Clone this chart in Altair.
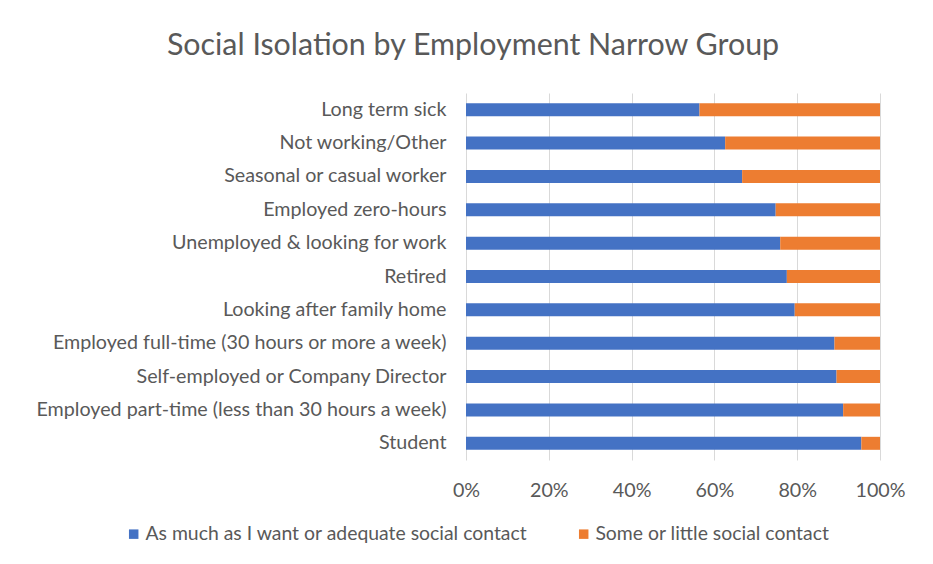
import altair as alt
import pandas as pd

categories = [
    "Long term sick",
    "Not working/Other",
    "Seasonal or casual worker",
    "Employed zero-hours",
    "Unemployed & looking for work",
    "Retired",
    "Looking after family home",
    "Employed full-time (30 hours or more a week)",
    "Self-employed or Company Director",
    "Employed part-time (less than 30 hours a week)",
    "Student",
]
adequate = [56.4, 62.6, 66.7, 74.8, 75.9, 77.5, 79.4, 89.0, 89.5, 91.1, 95.5]
little = [43.6, 37.4, 33.3, 25.2, 24.1, 22.5, 20.6, 11.0, 10.5, 8.9, 4.5]
series = ["As much as I want or adequate social contact", "Some or little social contact"]
colors = ["#4472C4", "#ED7D31"]

rows = []
for c, a, l in zip(categories, adequate, little):
    rows.append({"group": c, "series": series[0], "value": a, "order": 0})
    rows.append({"group": c, "series": series[1], "value": l, "order": 1})
df = pd.DataFrame(rows)

FONT = "Lato"
GREY = "#595959"
FS = 19.7

chart = alt.Chart(df).mark_bar().encode(
    y=alt.Y("group:N", sort=categories, title=None,
            scale=alt.Scale(paddingInner=0.61, paddingOuter=0.305),
            axis=alt.Axis(labelFontSize=FS, labelFont=FONT, labelColor=GREY,
                          labelPadding=20, ticks=False, domain=False, grid=False,
                          labelLimit=600)),
    x=alt.X("value:Q", stack="normalize", title=None,
            scale=alt.Scale(domain=[0, 1], nice=False),
            axis=alt.Axis(format=".0%", values=[0, 0.2, 0.4, 0.6, 0.8, 1.0],
                          labelFontSize=FS, labelFont=FONT, labelColor=GREY,
                          labelPadding=20, ticks=False, domain=False,
                          labelFlush=False,
                          grid=True, gridColor="#d9d9d9", gridWidth=1)),
    color=alt.Color("series:N", sort=series,
                    scale=alt.Scale(domain=series, range=colors),
                    legend=alt.Legend(title=None, orient="none", direction="horizontal",
                                      columns=2, legendX=-342, legendY=431,
                                      symbolType="square", symbolSize=90,
                                      symbolStrokeWidth=0, labelOffset=2,
                                      columnPadding=46,
                                      labelFontSize=19.4, labelFont=FONT,
                                      labelColor=GREY, labelLimit=600)),
    order=alt.Order("order:Q"),
).properties(
    width=414,
    height=367,
    autosize=alt.AutoSizeParams(type="none"),
    padding={"left": 458, "top": 85, "right": 40, "bottom": 90},
    title=alt.TitleParams("Social Isolation by Employment Narrow Group",
                          font=FONT, fontSize=30.4, fontWeight="normal",
                          color=GREY, anchor="middle", dx=-200, offset=32),
).configure_view(stroke=None)

chart.save("out.html", embed_options={"renderer": "svg", "actions": False})
